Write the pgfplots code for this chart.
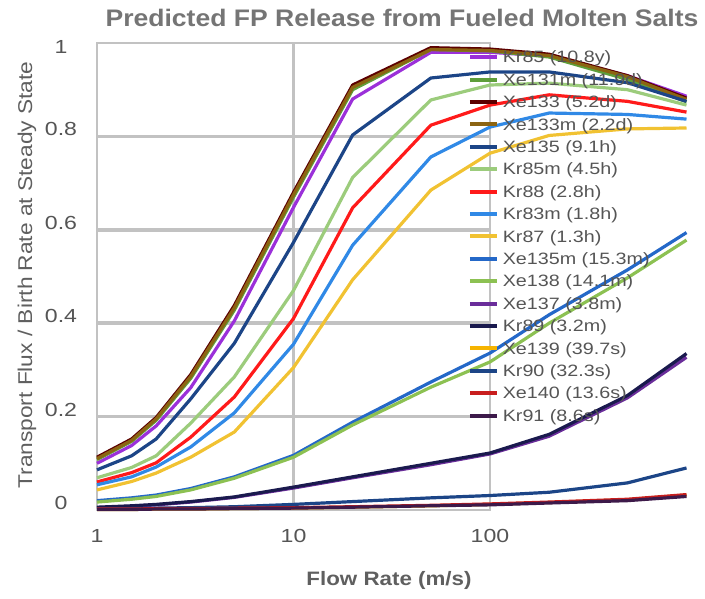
\documentclass[border=0pt]{standalone}
\usepackage{pgfplots}
\pgfplotsset{compat=1.18}
\usepackage{pgfplotstable}
\usepackage{fontspec}
\setmainfont{Liberation Sans}
\usepackage{graphicx}

\definecolor{cKrA}{HTML}{9B30D9}
\definecolor{cXeA}{HTML}{5E9E3A}
\definecolor{cXeB}{HTML}{5C0000}
\definecolor{cXeC}{HTML}{8C6412}
\definecolor{cXeD}{HTML}{1C4587}
\definecolor{cKrB}{HTML}{9CCC7C}
\definecolor{cKrC}{HTML}{FF1A1A}
\definecolor{cKrD}{HTML}{3089E6}
\definecolor{cKrE}{HTML}{F1C232}
\definecolor{cXeE}{HTML}{2468C8}
\definecolor{cXeF}{HTML}{8CC152}
\definecolor{cXeG}{HTML}{6A2D9A}
\definecolor{cKrF}{HTML}{1A1A4E}
\definecolor{cXeH}{HTML}{F6B400}
\definecolor{cKrG}{HTML}{1C4587}
\definecolor{cXeI}{HTML}{C81E1E}
\definecolor{cKrH}{HTML}{3D1A4A}
\definecolor{gridc}{HTML}{C2C2C2}
\definecolor{titlec}{HTML}{757575}
\definecolor{labc}{HTML}{5F5F5F}
\definecolor{tickc}{HTML}{555555}

\pgfplotstableread{
x    Kr85  Xe131m Xe133 Xe133m Xe135 Kr85m Kr88  Kr83m Kr87  Xe135m Xe138 Xe137 Kr89  Xe139 Kr90  Xe140 Kr91
1    0.100 0.108  0.113 0.110  0.086 0.069 0.060 0.054 0.043 0.020  0.017 0.005 0.006 0.001 0.002 0.002 0.001
1.5  0.138 0.147  0.152 0.149  0.116 0.091 0.080 0.071 0.061 0.026  0.023 0.008 0.009 0.001 0.003 0.002 0.001
2    0.180 0.192  0.198 0.195  0.152 0.116 0.101 0.092 0.079 0.032  0.029 0.011 0.012 0.002 0.004 0.003 0.002
3    0.262 0.282  0.290 0.286  0.238 0.186 0.156 0.135 0.113 0.046  0.043 0.017 0.018 0.002 0.005 0.003 0.002
5    0.405 0.428  0.438 0.433  0.357 0.285 0.242 0.208 0.167 0.071  0.068 0.027 0.028 0.003 0.007 0.004 0.003
10   0.648 0.670  0.680 0.675  0.573 0.470 0.410 0.355 0.305 0.117  0.113 0.047 0.049 0.004 0.012 0.005 0.004
20   0.880 0.900  0.910 0.905  0.803 0.712 0.647 0.567 0.493 0.188  0.182 0.069 0.071 0.006 0.018 0.007 0.006
50   0.980 0.986  0.990 0.986  0.925 0.878 0.824 0.756 0.685 0.274  0.263 0.097 0.100 0.009 0.026 0.010 0.009
100  0.980 0.983  0.987 0.984  0.938 0.910 0.867 0.820 0.764 0.336  0.317 0.120 0.122 0.012 0.031 0.013 0.011
200  0.972 0.970  0.976 0.973  0.938 0.914 0.889 0.850 0.802 0.418  0.400 0.158 0.162 0.016 0.038 0.017 0.015
500  0.930 0.922  0.930 0.928  0.915 0.900 0.875 0.847 0.816 0.514  0.497 0.240 0.245 0.022 0.058 0.023 0.020
1000 0.886 0.874  0.882 0.879  0.875 0.867 0.852 0.837 0.818 0.594  0.578 0.327 0.335 0.032 0.090 0.033 0.029
}\data

\newcommand\sx[1]{\scalebox{1.22}[1]{#1}}
\newcommand\legtext[1]{\rule[-2bp]{0pt}{15bp}\scalebox{1.2}[1]{#1}}

\begin{document}
\begin{tikzpicture}[x=1bp,y=1bp]
\path[use as bounding box] (0,0) rectangle (705,599);
% background grid box, covering 1..100 only
\begin{axis}[
  at={(97bp,89bp)}, anchor=south west,
  scale only axis, width=393bp, height=467bp,
  xmode=log, xmin=1, xmax=100, ymin=0, ymax=1,
  xtick={10}, ytick={0.2,0.4,0.6,0.8}, minor xtick={},
  xticklabel=\empty, yticklabel=\empty,
  major tick length=0pt, minor tick length=0pt,
  grid=major, grid style={gridc, line width=2.4bp},
  major y grid style={gridc, line width=3.6bp},
  axis line style={gridc, line width=2.4bp},
]
\end{axis}
\begin{axis}[
  at={(97bp,89bp)}, anchor=south west,
  scale only axis, width=589.5bp, height=467bp,
  xmode=log, xmin=1, xmax=1000, ymin=0, ymax=1,
  axis line style={draw=none}, major tick length=0pt, minor tick length=0pt,
  xtick={1,10,100}, xticklabels={\sx{1},\sx{10},\sx{100}},
  minor xtick={},
  ytick={0,0.2,0.4,0.6,0.8}, yticklabels={\sx{0},\sx{0.2},\sx{0.4},\sx{0.6},\sx{0.8}},
  extra y ticks={1}, extra y tick labels={\sx{1}},
  extra y tick style={yticklabel style={yshift=-11bp}},
  ticklabel style={font=\fontsize{19}{22}\selectfont, text=tickc},
  xticklabel style={anchor=center, yshift=-26bp},
  yticklabel style={anchor=center, xshift=-36bp, yshift=7bp},
  clip=false,
  legend cell align=left,
  legend style={at={(0.629,0.985)}, anchor=north west, draw=none, fill=none,
    inner sep=0pt, outer sep=0pt, row sep=7.9bp, column sep=4bp,
    font=\fontsize{16.5}{18}\selectfont, text=tickc, nodes={inner sep=0pt}},
  legend image code/.code={\draw[#1,line width=4bp] (0bp,0bp) -- (27bp,0bp);},
  every axis plot/.append style={line width=3.2bp, line join=round},
]
\addplot[cKrA] table[x=x,y=Kr85]{\data};   \addlegendentry{\legtext{Kr85 (10.8y)}}
\addplot[cXeA] table[x=x,y=Xe131m]{\data}; \addlegendentry{\legtext{Xe131m (11.9d)}}
\addplot[cXeB] table[x=x,y=Xe133]{\data};  \addlegendentry{\legtext{Xe133 (5.2d)}}
\addplot[cXeC] table[x=x,y=Xe133m]{\data}; \addlegendentry{\legtext{Xe133m (2.2d)}}
\addplot[cXeD] table[x=x,y=Xe135]{\data};  \addlegendentry{\legtext{Xe135 (9.1h)}}
\addplot[cKrB] table[x=x,y=Kr85m]{\data};  \addlegendentry{\legtext{Kr85m (4.5h)}}
\addplot[cKrC] table[x=x,y=Kr88]{\data};   \addlegendentry{\legtext{Kr88 (2.8h)}}
\addplot[cKrD] table[x=x,y=Kr83m]{\data};  \addlegendentry{\legtext{Kr83m (1.8h)}}
\addplot[cKrE] table[x=x,y=Kr87]{\data};   \addlegendentry{\legtext{Kr87 (1.3h)}}
\addplot[cXeE] table[x=x,y=Xe135m]{\data}; \addlegendentry{\legtext{Xe135m (15.3m)}}
\addplot[cXeF] table[x=x,y=Xe138]{\data};  \addlegendentry{\legtext{Xe138 (14.1m)}}
\addplot[cXeG] table[x=x,y=Xe137]{\data};  \addlegendentry{\legtext{Xe137 (3.8m)}}
\addplot[cKrF] table[x=x,y=Kr89]{\data};   \addlegendentry{\legtext{Kr89 (3.2m)}}
\addplot[cXeH] table[x=x,y=Xe139]{\data};  \addlegendentry{\legtext{Xe139 (39.7s)}}
\addplot[cKrG] table[x=x,y=Kr90]{\data};   \addlegendentry{\legtext{Kr90 (32.3s)}}
\addplot[cXeI] table[x=x,y=Xe140]{\data};  \addlegendentry{\legtext{Xe140 (13.6s)}}
\addplot[cKrH] table[x=x,y=Kr91]{\data};   \addlegendentry{\legtext{Kr91 (8.6s)}}
\end{axis}
\node[font=\bfseries\fontsize{24}{28}\selectfont, text=titlec] at (402,581)
  {\scalebox{1.11}[1]{Predicted FP Release from Fueled Molten Salts}};
\node[font=\bfseries\fontsize{19.5}{24}\selectfont, text=labc] at (389,19)
  {\scalebox{1.15}[1]{Flow Rate (m/s)}};
\node[rotate=90, font=\fontsize{20}{24}\selectfont, text=labc] at (27,324)
  {\scalebox{1.14}[1]{Transport Flux / Birth Rate at Steady State}};
\end{tikzpicture}
\end{document}
